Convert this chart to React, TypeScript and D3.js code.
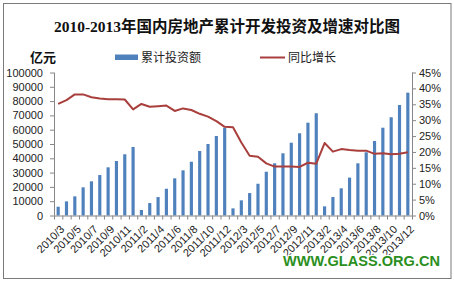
import React from "react";
import * as d3 from "d3";

const categories = [
  "2010/3","2010/4","2010/5","2010/6","2010/7","2010/8","2010/9","2010/10","2010/11","2010/12",
  "2011/2","2011/3","2011/4","2011/5","2011/6","2011/7","2011/8","2011/9","2011/10","2011/11","2011/12",
  "2012/2","2012/3","2012/4","2012/5","2012/6","2012/7","2012/8","2012/9","2012/10","2012/11","2012/12",
  "2013/2","2013/3","2013/4","2013/5","2013/6","2013/7","2013/8","2013/9","2013/10","2013/11","2013/12",
];

const investment = [
  6150, 9900, 13400, 19700, 23900, 28300, 33700, 38100, 42800, 47900,
  3850, 8700, 12900, 18700, 26000, 31600, 37600, 45100, 50000, 55600, 61400,
  5000, 10600, 15700, 22200, 30600, 36500, 43500, 50900, 57500, 64900, 71500,
  6400, 12900, 19000, 26500, 36500, 44200, 52100, 61400, 68700, 77300, 85900,
];

const growth = [
  35.1, 36.3, 38.1, 38.1, 37.2, 36.8, 36.6, 36.6, 36.5, 33.4,
  35.1, 34.2, 34.4, 34.6, 32.9, 33.7, 33.2, 32.0, 31.1, 29.7, 27.9,
  27.8, 23.0, 18.8, 18.5, 16.4, 15.4, 15.4, 15.4, 15.3, 16.6, 16.3,
  22.8, 20.1, 20.9, 20.6, 20.4, 20.4, 19.4, 19.6, 19.3, 19.4, 19.9,
];

const leftTicks = [0, 10000, 20000, 30000, 40000, 50000, 60000, 70000, 80000, 90000, 100000];
const rightTicks = [0, 5, 10, 15, 20, 25, 30, 35, 40, 45];

const title = "2010-2013年国内房地产累计开发投资及增速对比图";
const unitLabel = "亿元";
const seriesNames = ["累计投资额", "同比增长"];
const watermark = "WWW.GLASS.ORG.CN";

const W = 454;
const H = 284;
const plotLeft = 54;
const plotRight = 412;
const plotTop = 72.5;
const plotBottom = 215.5;

const BLUE = "#4f81bd";
const RED = "#a93f3c";
const AXIS = "#868686";
const FONT = "'Liberation Sans', Arial, 'Noto Sans CJK SC', sans-serif";

export default function App() {
  const x = d3
    .scaleBand<string>()
    .domain(categories)
    .range([plotLeft, plotRight])
    .paddingInner(0.62)
    .paddingOuter(0.31);
  const step = x.step();
  const yL = d3.scaleLinear().domain([0, 100000]).range([plotBottom, plotTop]);
  const yR = d3.scaleLinear().domain([0, 45]).range([plotBottom, plotTop]);
  const cx = (c: string) => (x(c) as number) + x.bandwidth() / 2;

  const line = d3
    .line<number>()
    .x((_, i) => cx(categories[i]))
    .y((d) => yR(d));

  const boundaries = d3.range(categories.length + 1).map((i) => plotLeft + i * step);

  return (
    <svg
      width={W}
      height={H}
      style={{ position: "absolute", left: 0, top: 0, display: "block", background: "#fff" }}
    >
      <rect x={0} y={0} width={W} height={H} fill="#fff" />
      <rect x={3.5} y={3.5} width={447.5} height={275} fill="none" stroke="#7a7a7a" strokeWidth={1} />
      <text
        x={227}
        y={32}
        textAnchor="middle"
        fontFamily="'Liberation Serif', 'DejaVu Serif', 'Noto Sans CJK SC', serif"
        fontWeight="bold"
        fontSize={15.5}
        fill="#111"
      >
        {title}
      </text>
      <text x={30} y={62} fontFamily={FONT} fontWeight="bold" fontSize={13} fill="#111">
        {unitLabel}
      </text>
      {/* legend */}
      <rect x={115} y={54.5} width={23} height={5.5} fill={BLUE} />
      <text x={141} y={62} fontFamily={FONT} fontSize={12} fill="#222">
        {seriesNames[0]}
      </text>
      <line x1={260} x2={285} y1={57.5} y2={57.5} stroke={RED} strokeWidth={2} />
      <text x={288} y={62} fontFamily={FONT} fontSize={12} fill="#222">
        {seriesNames[1]}
      </text>

      {/* bars */}
      {investment.map((v, i) => (
        <rect
          key={i}
          x={x(categories[i]) as number}
          y={yL(v)}
          width={x.bandwidth()}
          height={plotBottom - yL(v)}
          fill={BLUE}
        />
      ))}

      {/* line */}
      <path d={line(growth) || ""} fill="none" stroke={RED} strokeWidth={2} strokeLinejoin="round" />

      {/* left axis */}
      <line x1={plotLeft + 0.5} x2={plotLeft + 0.5} y1={plotTop} y2={plotBottom} stroke={AXIS} />
      {leftTicks.map((t) => (
        <g key={t}>
          <line x1={plotLeft - 4} x2={plotLeft} y1={yL(t) + 0.5} y2={yL(t) + 0.5} stroke={AXIS} />
          <text
            x={43}
            y={yL(t) + 4}
            textAnchor="end"
            fontFamily={FONT}
            fontSize={11}
            fill="#222"
          >
            {t}
          </text>
        </g>
      ))}

      {/* right axis */}
      <line x1={plotRight + 0.5} x2={plotRight + 0.5} y1={plotTop} y2={plotBottom} stroke={AXIS} />
      {rightTicks.map((t) => (
        <g key={t}>
          <line x1={plotRight} x2={plotRight + 4} y1={yR(t) + 0.5} y2={yR(t) + 0.5} stroke={AXIS} />
          <text x={419} y={yR(t) + 4} fontFamily={FONT} fontSize={11} fill="#222">
            {t + "%"}
          </text>
        </g>
      ))}

      {/* category axis */}
      <line x1={plotLeft} x2={plotRight + 1} y1={plotBottom + 0.5} y2={plotBottom + 0.5} stroke={AXIS} />
      {boundaries.map((b, i) => (
        <line key={i} x1={b + 0.5} x2={b + 0.5} y1={plotBottom} y2={plotBottom + 4} stroke={AXIS} />
      ))}
      {categories.map((c, i) =>
        i % 2 === 0 ? (
          <text
            key={c}
            transform={`translate(${cx(c) + 7},${plotBottom + 14.5}) rotate(-45)`}
            textAnchor="end"
            fontFamily={FONT}
            fontSize={11}
            fill="#222"
          >
            {c}
          </text>
        ) : null
      )}

      {/* watermark */}
      <text
        x={283}
        y={266}
        fontFamily="'Liberation Sans', Arial, sans-serif"
        fontWeight="bold"
        fontSize={14.5}
        textLength={157}
        lengthAdjust="spacingAndGlyphs"
        fill="#2b8f1e"
        stroke="#ffffff"
        strokeWidth={2.5}
        paintOrder="stroke"
      >
        {watermark}
      </text>
    </svg>
  );
}
